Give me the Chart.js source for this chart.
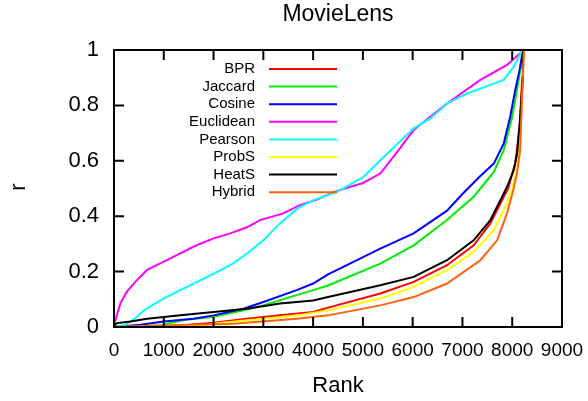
<!DOCTYPE html>
<html>
<head>
<meta charset="utf-8">
<script src="https://cdn.jsdelivr.net/npm/chart.js@4/dist/chart.umd.min.js"></script>
<style>
  html, body { margin: 0; padding: 0; background: #fff; }
  #wrap { width: 588px; height: 401px; }
</style>
</head>
<body>
<div id="wrap"><canvas id="chart"></canvas></div>
<script>
// series names, colours and values (rank, r)
const names = ['BPR', 'Jaccard', 'Cosine', 'Euclidean', 'Pearson', 'ProbS', 'HeatS', 'Hybrid'];
const colors = ['#ff0000', '#00ee00', '#0000ff', '#ff00ff', '#00ffff', '#ffff00', '#000000', '#ff6010'];

const bprX = [0, 1130, 2000, 2670, 3335, 4000, 4300, 5350, 6020, 6690, 7225, 7560, 7830, 7920, 8000, 8060, 8150, 8200, 8215];
const bprY = [0, 0.003, 0.015, 0.03, 0.042, 0.054, 0.07, 0.121, 0.163, 0.223, 0.295, 0.374, 0.47, 0.5, 0.554, 0.59, 0.723, 0.9, 1];

const jacX = [0, 900, 1400, 2000, 2600, 3000, 3670, 4000, 4300, 5350, 6020, 6690, 7225, 7360, 7630, 7830, 8000, 8095, 8200, 8220];
const jacY = [0, 0.005, 0.025, 0.037, 0.06, 0.078, 0.115, 0.133, 0.15, 0.229, 0.295, 0.386, 0.47, 0.5, 0.56, 0.639, 0.759, 0.855, 0.964, 1];

const cosX = [0, 530, 1000, 1600, 2000, 2600, 3000, 3670, 4000, 4300, 5350, 6020, 6690, 7000, 7360, 7630, 7830, 7960, 8060, 8150, 8215];
const cosY = [0, 0.008, 0.02, 0.03, 0.042, 0.066, 0.09, 0.133, 0.157, 0.19, 0.283, 0.338, 0.42, 0.48, 0.545, 0.59, 0.663, 0.759, 0.855, 0.93, 1];

const eucX = [0, 30, 130, 265, 465, 665, 1000, 1330, 1670, 2000, 2335, 2670, 2935, 3400, 3730, 4080, 4400, 5000, 5350, 5690, 6020, 6690, 7360, 7895, 8195, 8210];
const eucY = [0.01, 0.025, 0.087, 0.13, 0.17, 0.206, 0.236, 0.266, 0.296, 0.32, 0.338, 0.36, 0.386, 0.41, 0.44, 0.46, 0.487, 0.52, 0.554, 0.632, 0.711, 0.807, 0.892, 0.946, 0.994, 1];

const peaX = [0, 230, 465, 600, 1000, 1330, 1670, 2000, 2335, 2670, 3000, 3335, 3700, 4000, 4500, 5000, 5350, 6020, 6355, 6690, 7090, 7560, 7830, 8030, 8200];
const peaY = [0, 0.008, 0.038, 0.06, 0.103, 0.133, 0.163, 0.193, 0.223, 0.265, 0.313, 0.374, 0.43, 0.457, 0.49, 0.54, 0.602, 0.717, 0.753, 0.807, 0.843, 0.874, 0.892, 0.94, 1];

const proX = [0, 1800, 2070, 3000, 3670, 4300, 5350, 6020, 6690, 7225, 7630, 7895, 8000, 8100, 8160, 8215, 8225];
const proY = [0, 0.005, 0.014, 0.03, 0.042, 0.06, 0.103, 0.145, 0.205, 0.271, 0.35, 0.446, 0.5, 0.578, 0.7, 0.88, 1];

const heaX = [0, 60, 330, 665, 1000, 1330, 2000, 2670, 3335, 4000, 4300, 5350, 6020, 6690, 7225, 7560, 7830, 7930, 8030, 8100, 8160, 8215, 8220];
const heaY = [0.005, 0.014, 0.02, 0.03, 0.036, 0.042, 0.054, 0.066, 0.085, 0.096, 0.108, 0.151, 0.181, 0.241, 0.313, 0.386, 0.482, 0.52, 0.566, 0.627, 0.759, 0.9, 1];

const hybX = [0, 1070, 2400, 3670, 4300, 5350, 6020, 6690, 7360, 7695, 7895, 8030, 8100, 8160, 8195, 8230, 8235];
const hybY = [0, 0.006, 0.012, 0.03, 0.042, 0.078, 0.108, 0.157, 0.241, 0.313, 0.41, 0.5, 0.56, 0.64, 0.82, 0.976, 1];

const seriesX = [bprX, jacX, cosX, eucX, peaX, proX, heaX, hybX];
const seriesY = [bprY, jacY, cosY, eucY, peaY, proY, heaY, hybY];

const xTicks = [0, 1000, 2000, 3000, 4000, 5000, 6000, 7000, 8000, 9000];
const yTicks = [0, 0.2, 0.4, 0.6, 0.8, 1];

const FONT = '"Liberation Sans", Arial, sans-serif';

// gnuplot style frame with inward ticks, title, axis titles and key
const framePlugin = {
    id: 'frame',
    afterDatasetsDraw(chart) {
        const ctx = chart.ctx;
        const a = chart.chartArea;
        const xs = chart.scales.x, ys = chart.scales.y;
        const midX = (a.left + a.right) / 2;
        ctx.save();
        ctx.strokeStyle = '#000';
        ctx.lineWidth = 2;
        ctx.strokeRect(a.left, a.top, a.right - a.left, a.bottom - a.top);
        ctx.beginPath();
        xTicks.forEach(v => {
            const px = xs.getPixelForValue(v);
            ctx.moveTo(px, a.bottom); ctx.lineTo(px, a.bottom - 10);
            ctx.moveTo(px, a.top); ctx.lineTo(px, a.top + 10);
        });
        yTicks.forEach(v => {
            const py = ys.getPixelForValue(v);
            ctx.moveTo(a.left, py); ctx.lineTo(a.left + 10, py);
            ctx.moveTo(a.right, py); ctx.lineTo(a.right - 10, py);
        });
        ctx.stroke();

        // key
        ctx.font = '15px ' + FONT;
        ctx.textAlign = 'right';
        ctx.textBaseline = 'middle';
        names.forEach((n, i) => {
            const y = 69 + i * 17.6;
            ctx.fillStyle = '#000';
            ctx.fillText(n, 255, y);
            ctx.strokeStyle = colors[i];
            ctx.lineWidth = 2;
            ctx.beginPath();
            ctx.moveTo(269, y); ctx.lineTo(337, y);
            ctx.stroke();
        });

        // title and axis titles
        ctx.fillStyle = '#000';
        ctx.textAlign = 'center';
        ctx.textBaseline = 'alphabetic';
        ctx.font = '23px ' + FONT;
        ctx.fillText('MovieLens', midX, 21);
        ctx.font = '22px ' + FONT;
        ctx.fillText('Rank', midX, 392);
        ctx.translate(25, 187);
        ctx.rotate(-Math.PI / 2);
        ctx.fillText('r', 0, 0);
        ctx.restore();
    }
};

document.addEventListener('DOMContentLoaded', () => {
    const ctx = document.getElementById('chart').getContext('2d');

    const datasets = names.map((n, i) => ({
        label: n,
        data: seriesX[i].map((x, j) => ({ x: x, y: seriesY[i][j] })),
        borderColor: colors[i],
        backgroundColor: colors[i],
        borderWidth: 2,
        pointRadius: 0,
        tension: 0,
        fill: false,
        order: names.length - i
    }));

    new Chart(ctx, {
        type: 'line',
        data: { datasets: datasets },
        options: {
            responsive: true,
            maintainAspectRatio: false,
            animation: false,
            layout: { padding: { left: 0, right: 26, top: 50, bottom: 0 } },
            plugins: {
                legend: { display: false },
                tooltip: { enabled: false },
                title: { display: false }
            },
            scales: {
                x: {
                    type: 'linear',
                    min: 0, max: 9000,
                    afterBuildTicks: s => { s.ticks = xTicks.map(v => ({ value: v })); },
                    afterFit: s => { s.height = 74; s.paddingLeft = 0; s.paddingRight = 0; },
                    grid: { display: false, drawTicks: false },
                    border: { display: false },
                    ticks: {
                        color: '#000',
                        padding: 12,
                        maxRotation: 0,
                        autoSkip: false,
                        font: { family: FONT, size: 19 },
                        callback: v => String(v)
                    }
                },
                y: {
                    type: 'linear',
                    min: 0, max: 1,
                    afterBuildTicks: s => { s.ticks = yTicks.map(v => ({ value: v })); },
                    afterFit: s => { s.width = 114; s.paddingTop = 0; s.paddingBottom = 0; },
                    grid: { display: false, drawTicks: false },
                    border: { display: false },
                    ticks: {
                        color: '#000',
                        padding: 15,
                        font: { family: FONT, size: 22 },
                        callback: v => String(v)
                    }
                }
            }
        },
        plugins: [framePlugin]
    });
});
</script>
</body>
</html>
